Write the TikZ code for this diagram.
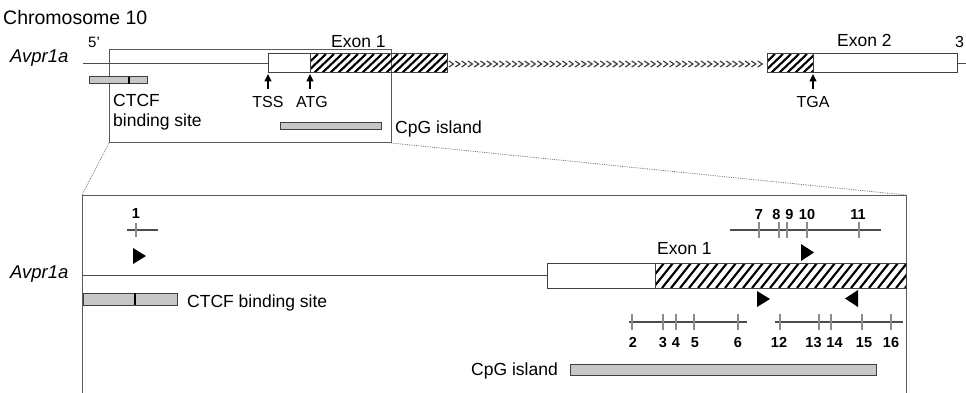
\documentclass[tikz,border=0pt]{standalone}
\usepackage{fontspec}
\setmainfont{Liberation Sans}
\usetikzlibrary{arrows.meta}
\newcommand\hatchbox[5]{% x1 y1 x2 y2 spacing
  \begin{scope}
    \clip (#1,#2) rectangle (#3,#4);
    \foreach \hx in {#1,\the\numexpr#1+#5\relax,...,\the\numexpr#3+30\relax}
      \draw[line width=2.1pt,black] (\hx-20,#4) -- ++(20,#2-#4);
  \end{scope}
  \draw[exonline] (#1,#2) rectangle (#3,#4);
}
\begin{document}
\begin{tikzpicture}[x=1pt,y=-1pt,
  exonline/.style={draw=black!75,line width=1pt},
  gene/.style={draw=black!70,line width=1pt},
  zoombox/.style={draw=black!65,line width=1pt},
  zoomline/.style={draw=black!55,densely dotted,line width=0.8pt},
  bar/.style={draw=black!75,fill=black!22,line width=1pt},
  lbl/.style={inner sep=0pt,anchor=base west,font=\fontsize{17.5}{20}\selectfont},
  slbl/.style={inner sep=0pt,anchor=base,font=\fontsize{16}{18}\selectfont},
  num/.style={inner sep=0pt,anchor=base,font=\fontsize{14.5}{16}\selectfont\bfseries},
  arr/.style={-{Triangle[length=7.5pt,width=7pt]},line width=1.1pt,black},
  mline/.style={draw=black!70,line width=1.2pt},
  tick/.style={draw=black!45,line width=1.2pt},
  tri/.style={fill=black},
  chev/.style={draw=black!75,line width=1.2pt}
]
\useasboundingbox (0,0) rectangle (966,393);

% ---------- top overview ----------
\node[lbl,font=\fontsize{19.5}{23}\selectfont] (chr) at (3,25) {Chromosome 10};
\node[lbl,font=\fontsize{15}{17}\selectfont] (five) at (88,48) {5'};
\node[lbl,font=\fontsize{18.5}{20}\selectfont\itshape] (gene1) at (10,63) {Avpr1a};
\node[lbl] (ex1lbl) at (331,48) {Exon 1};
\node[lbl] (ex2lbl) at (837,47) {Exon 2};
\node[lbl,font=\fontsize{16}{18}\selectfont] (three) at (955,48) {3};

% zoom rectangle
\coordinate (zbTL) at (109,50);
\coordinate (zbBR) at (391,143);
\coordinate (zbBL) at (109,143);
\draw[zoombox] (zbTL) rectangle (zbBR);

% gene line
\coordinate (gstart) at (83,64);
\coordinate (ex1s) at (268,64);
\draw[gene] (gstart) -- (ex1s);
\draw[gene] (957,64) -- (966,64);

% exon 1
\draw[exonline,fill=white] (268,54) rectangle (310,73);
\hatchbox{310}{54}{447}{73}{8}
% intron chevrons
\foreach \cx in {449,455.3,...,762}
  \draw[chev] (\cx,61) -- (\cx+4.5,64) -- (\cx,67);
% exon 2
\hatchbox{767}{54}{813}{73}{8}
\draw[exonline,fill=white] (813,54) rectangle (957,73);

% CTCF top
\draw[bar] (89,77) rectangle (147,84);
\draw[line width=1.2pt,black] (129,77) -- (129,84);
\node[lbl] (ctcf1) at (113,107) {CTCF};
\node[lbl] (ctcf2) at (113,127) {binding site};

% TSS/ATG/TGA
\node[slbl] (tss) at (268,108) {TSS};
\node[slbl] (atg) at (312,108) {ATG};
\node[slbl] (tga) at (813,108) {TGA};
\coordinate (tssP) at (268,74);
\coordinate (atgP) at (310,74);
\coordinate (tgaP) at (813,74);
\draw[arr] (268,89) -- (tssP);
\draw[arr] (310,89) -- (atgP);
\draw[arr] (813,89) -- (tgaP);

% CpG top
\draw[bar] (280,123) rectangle (381,130);
\node[lbl] (cpg1) at (395,133) {CpG island};

% ---------- zoomed view ----------
\coordinate (bbTL) at (82,195);
\coordinate (bbTR) at (906,195);
\draw[zoombox] (82,400) -- (bbTL) -- (bbTR) -- (906,400);
\draw[zoomline] (zbBL) -- (bbTL);
\draw[zoomline] (zbBR) -- (bbTR);

\node[lbl,font=\fontsize{18.5}{20}\selectfont\itshape] (gene2) at (10,278) {Avpr1a};
\draw[gene] (bbTL |- 0,275) -- (547,275);
\draw[exonline,fill=white] (547,263) rectangle (655,288);
\hatchbox{655}{263}{906}{288}{9}
\node[lbl] (ex1blbl) at (657,254) {Exon 1};

% marker 1
\node[num] (n1) at (136,218) {1};
\draw[mline] (127,230) -- (158,230);
\draw[tick] (136,223) -- (136,237);
\fill[tri] (133,248) -- (146,256) -- (133,264) -- cycle;

% CTCF bottom
\draw[bar] (83,293) rectangle (177,305);
\draw[line width=1.2pt,black] (135,293) -- (135,305);
\node[lbl] (ctcf3) at (187,307) {CTCF binding site};

% upper markers 7-11
\draw[mline] (730,230) -- (881,230);
\foreach \t in {759,779,787,807,859}
  \draw[tick] (\t,222) -- (\t,238);
\node[num] (n7) at (759,219) {7};
\node[num] (n8) at (776.5,219) {8};
\node[num] (n9) at (789.5,219) {9};
\node[num] (n10) at (807,219) {10};
\node[num] (n11) at (858,219) {11};

% primers
\fill[tri] (801,244) -- (814,252.5) -- (801,261) -- cycle;
\fill[tri] (757,291) -- (770,299) -- (757,307) -- cycle;
\fill[tri] (858,290) -- (845,298.5) -- (858,307) -- cycle;

% lower markers 2-6
\draw[mline] (629,322) -- (747,322);
\foreach \t in {632,663,676,694,738}
  \draw[tick] (\t,314) -- (\t,330);
% lower markers 12-16
\draw[mline] (775,322) -- (903,322);
\foreach \t in {780,819,831,862,891}
  \draw[tick] (\t,314) -- (\t,330);
\node[num] (n2) at (633,347) {2};
\node[num] (n3) at (663,347) {3};
\node[num] (n4) at (676,347) {4};
\node[num] (n5) at (695,347) {5};
\node[num] (n6) at (738,347) {6};
\node[num] (n12) at (779,347) {12};
\node[num] (n13) at (813.5,347) {13};
\node[num] (n14) at (834.5,347) {14};
\node[num] (n15) at (864,347) {15};
\node[num] (n16) at (891,347) {16};

% CpG bottom
\draw[bar] (570,364) rectangle (876,375);
\node[lbl] (cpg2) at (471,375) {CpG island};
\end{tikzpicture}
\end{document}
